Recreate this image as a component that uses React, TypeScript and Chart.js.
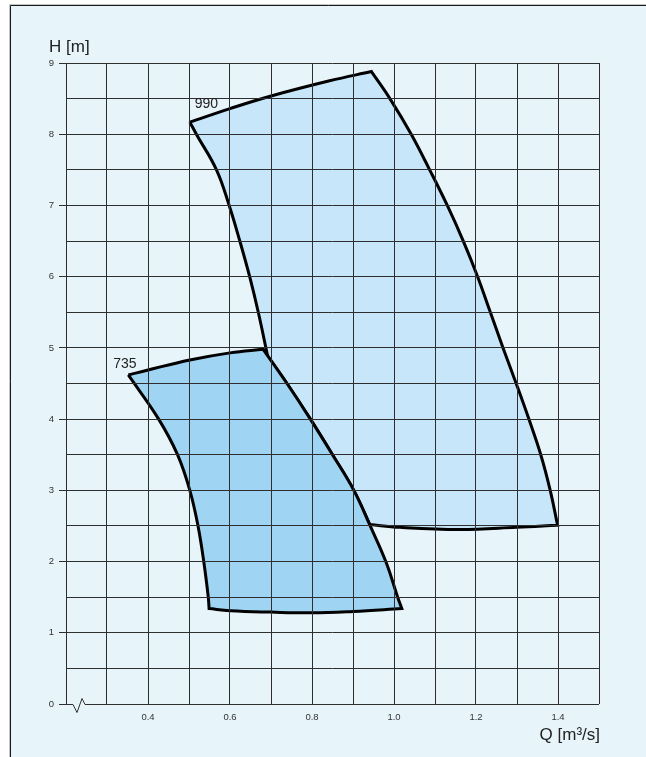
import React, { useEffect, useRef } from "react";
import { Chart, registerables } from "chart.js";

Chart.register(...registerables);

// Axis ranges and ticks
const qMin = 0.2;
const qMax = 1.5;
const hMin = 0;
const hMax = 9;
const qTickLabels = [0.4, 0.6, 0.8, 1.0, 1.2, 1.4];
const hTickLabels = [0, 1, 2, 3, 4, 5, 6, 7, 8, 9];

// Operating field for 735 rpm, one array pair per side (clockwise)
const q735Top = [0.352, 0.4, 0.502, 0.6, 0.681];
const h735Top = [4.62, 4.69, 4.83, 4.93, 4.98];
const q735Right = [0.681, 0.739, 0.796, 0.85, 0.902, 0.942, 0.98, 1.009, 1.019];
const h735Right = [4.98, 4.5, 4.0, 3.5, 3.0, 2.5, 2.0, 1.5, 1.34];
const q735Bottom = [1.019, 0.9, 0.799, 0.699, 0.6, 0.549];
const h735Bottom = [1.34, 1.3, 1.28, 1.29, 1.31, 1.34];
const q735Left = [0.549, 0.547, 0.536, 0.522, 0.502, 0.472, 0.426, 0.352];
const h735Left = [1.34, 1.5, 2.0, 2.5, 3.0, 3.5, 4.0, 4.62];

// Operating field for 990 rpm, one array pair per side (clockwise)
const q990Top = [0.502, 0.6, 0.696, 0.843, 0.945];
const h990Top = [8.17, 8.36, 8.53, 8.75, 8.88];
const q990Right = [0.945, 0.99, 1.042, 1.087, 1.13, 1.169, 1.204, 1.235, 1.266, 1.298, 1.329, 1.358, 1.381, 1.399];
const h990Right = [8.88, 8.5, 8.0, 7.5, 7.0, 6.5, 6.0, 5.5, 5.0, 4.5, 4.0, 3.5, 3.0, 2.51];
const q990Bottom = [1.399, 1.299, 1.16, 1.014, 0.941];
const h990Bottom = [2.51, 2.48, 2.45, 2.48, 2.52];
const q990Inner = [0.941, 0.902, 0.85, 0.796, 0.739, 0.692];
const h990Inner = [2.52, 3.0, 3.5, 4.0, 4.5, 4.88];
const q990Left = [0.692, 0.669, 0.648, 0.624, 0.598, 0.567, 0.518, 0.502];
const h990Left = [4.88, 5.5, 6.0, 6.5, 7.0, 7.5, 8.0, 8.17];

// Curve labels (speed in rpm) and their anchor positions
const fieldLabels = ["735", "990"];
const labelQ = [0.315, 0.514];
const labelH = [4.715, 8.37];

const FONT = "'Liberation Sans', Arial, Helvetica, sans-serif";
const GRID = "#2e2e2e";
const TEXT = "#222";

// Sides share their end points, so corners appear twice and stay sharp.
const outline = (sides: [number[], number[]][]) =>
  sides.flatMap(([xs, ys]) => xs.map((x, i) => ({ x, y: ys[i] })));

const isOn = (v: number, list: number[]) => list.some((t) => Math.abs(t - v) < 1e-6);

const decorPlugin = {
  id: "decor",
  beforeDraw(chart: any) {
    const { ctx, width, height } = chart;
    ctx.save();
    ctx.fillStyle = "#ffffff";
    ctx.fillRect(0, 0, width, height);
    ctx.fillStyle = "#e7f5fb";
    ctx.fillRect(10, 5, width - 10, height - 5);
    ctx.lineWidth = 1;
    ctx.strokeStyle = "#c4c4c4";
    ctx.beginPath();
    ctx.moveTo(9.5, height);
    ctx.lineTo(9.5, 4.5);
    ctx.lineTo(width, 4.5);
    ctx.stroke();
    ctx.strokeStyle = "#1a1a1a";
    ctx.beginPath();
    ctx.moveTo(10.5, height);
    ctx.lineTo(10.5, 5.5);
    ctx.lineTo(width, 5.5);
    ctx.stroke();
    ctx.restore();
  },
  afterDraw(chart: any) {
    const { ctx, chartArea } = chart;
    const xs = chart.scales.x;
    const ys = chart.scales.y;
    const left = chartArea.left;
    const bottom = Math.round(ys.getPixelForValue(0)) + 0.5;
    ctx.save();
    // bottom axis with break symbol
    ctx.strokeStyle = GRID;
    ctx.lineWidth = 1;
    ctx.lineJoin = "miter";
    ctx.beginPath();
    ctx.moveTo(left, bottom);
    ctx.lineTo(left + 7, bottom);
    ctx.lineTo(left + 11, bottom + 8);
    ctx.lineTo(left + 16, bottom - 6);
    ctx.lineTo(left + 19, bottom);
    ctx.lineTo(chartArea.right, bottom);
    ctx.stroke();

    // axis titles
    ctx.fillStyle = TEXT;
    ctx.font = `17px ${FONT}`;
    ctx.textBaseline = "alphabetic";
    ctx.textAlign = "left";
    ctx.fillText("H [m]", left - 17, chartArea.top - 11);
    ctx.textAlign = "right";
    ctx.fillText("Q [m³/s]", chartArea.right + 1, chartArea.bottom + 36);

    // field labels
    ctx.font = `14px ${FONT}`;
    ctx.textAlign = "left";
    fieldLabels.forEach((t, i) => {
      ctx.fillText(t, xs.getPixelForValue(labelQ[i]), ys.getPixelForValue(labelH[i]));
    });
    ctx.restore();
  },
};

export default function App() {
  const ref = useRef<HTMLCanvasElement | null>(null);

  useEffect(() => {
    if (!ref.current) return;
    const fieldStyle = {
      showLine: true,
      fill: "shape",
      borderColor: "#000",
      borderWidth: 3,
      borderJoinStyle: "miter",
      borderCapStyle: "butt",
      pointRadius: 0,
      tension: 0.4,
    };
    const chart = new Chart(ref.current, {
      type: "scatter",
      data: {
        datasets: [
          {
            ...fieldStyle,
            label: "735",
            data: outline([
              [q735Top, h735Top],
              [q735Right, h735Right],
              [q735Bottom, h735Bottom],
              [q735Left, h735Left],
            ]),
            backgroundColor: "#9fd4f3",
          },
          {
            ...fieldStyle,
            label: "990",
            data: outline([
              [q990Top, h990Top],
              [q990Right, h990Right],
              [q990Bottom, h990Bottom],
              [q990Inner, h990Inner],
              [q990Left, h990Left],
            ]),
            backgroundColor: "#c8e6f9",
          },
        ],
      },
      options: {
        animation: false,
        responsive: false,
        devicePixelRatio: 1,
        layout: { padding: { left: 0, top: 63, right: 47, bottom: 23 } },
        plugins: {
          legend: { display: false },
          tooltip: { enabled: false },
          title: { display: false },
        },
        scales: {
          x: {
            type: "linear",
            min: qMin,
            max: qMax,
            border: { display: false },
            grid: {
              z: 1,
              color: GRID,
              lineWidth: 1,
              drawTicks: false,
            },
            ticks: {
              stepSize: 0.1,
              autoSkip: false,
              maxRotation: 0,
              padding: 8,
              color: "#333",
              font: { family: FONT, size: 9.5 },
              callback: (value: any) => {
                const v = Math.round(Number(value) * 10) / 10;
                return isOn(v, qTickLabels) ? v.toFixed(1) : "";
              },
            },
            afterFit: (scale: any) => {
              scale.height = 30;
            },
          },
          y: {
            type: "linear",
            min: hMin,
            max: hMax,
            border: { display: false },
            grid: {
              z: 1,
              lineWidth: 1,
              tickLength: 7,
              color: (c: any) =>
                c.tick && Math.abs(c.tick.value) < 1e-9 ? "rgba(0,0,0,0)" : GRID,
              tickColor: (c: any) =>
                c.tick && isOn(Math.round(c.tick.value * 2) / 2, hTickLabels) ? GRID : "rgba(0,0,0,0)",
            },
            ticks: {
              stepSize: 0.5,
              autoSkip: false,
              padding: 5,
              color: "#333",
              font: { family: FONT, size: 9.5 },
              callback: (value: any) => {
                const v = Math.round(Number(value) * 2) / 2;
                return isOn(v, hTickLabels) ? String(v) : "";
              },
            },
            afterFit: (scale: any) => {
              scale.width = 66;
            },
          },
        },
      },
      plugins: [decorPlugin],
    } as any);
    return () => chart.destroy();
  }, []);

  return (
    <div style={{ position: "absolute", left: 0, top: 0, width: 646, height: 757 }}>
      <canvas ref={ref} width={646} height={757} style={{ display: "block", width: 646, height: 757 }} />
    </div>
  );
}
